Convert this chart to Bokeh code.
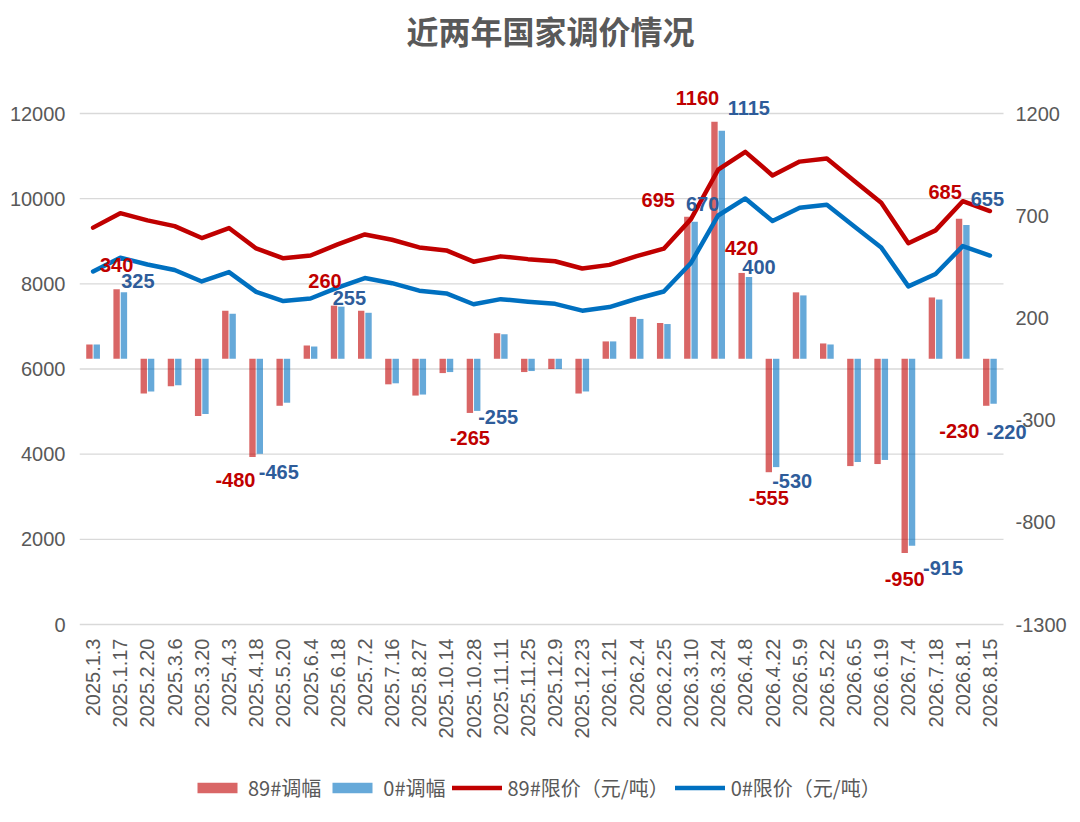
import math
from bokeh.plotting import figure
from bokeh.models import (Range1d, LinearAxis, FixedTicker, Label, Legend,
                          LegendItem, ColumnDataSource)
from bokeh.embed import file_html
from bokeh.resources import INLINE

# ---------------- data ----------------
categories = ["2025.1.3", "2025.1.17", "2025.2.20", "2025.3.6", "2025.3.20", "2025.4.3",
              "2025.4.18", "2025.5.20", "2025.6.4", "2025.6.18", "2025.7.2", "2025.7.16",
              "2025.8.27", "2025.10.14", "2025.10.28", "2025.11.11", "2025.11.25", "2025.12.9",
              "2025.12.23", "2026.1.21", "2026.2.4", "2026.2.25", "2026.3.10", "2026.3.24",
              "2026.4.8", "2026.4.22", "2026.5.9", "2026.5.22", "2026.6.5", "2026.6.19",
              "2026.7.4", "2026.7.18", "2026.8.1", "2026.8.15"]

adj_89 = [70, 340, -170, -135, -280, 235, -480, -230, 65, 260, 235, -125, -180, -70, -265,
          125, -65, -50, -170, 85, 205, 175, 695, 1160, 420, -555, 325, 75, -525, -515,
          -950, 300, 685, -230]
adj_0 = [70, 325, -160, -130, -270, 220, -465, -215, 60, 255, 225, -120, -175, -65, -255,
         120, -60, -50, -160, 85, 195, 170, 670, 1115, 400, -530, 310, 70, -505, -495,
         -915, 290, 655, -220]
price_89 = [9320, 9660, 9490, 9355, 9075, 9310, 8830, 8600, 8665, 8925, 9160, 9035, 8855,
            8785, 8520, 8645, 8580, 8530, 8360, 8445, 8650, 8825, 9520, 10680, 11100, 10545,
            10870, 10945, 10420, 9905, 8955, 9255, 9940, 9710]
price_0 = [8290, 8615, 8455, 8325, 8055, 8275, 7810, 7595, 7655, 7910, 8135, 8015, 7840,
           7775, 7520, 7640, 7580, 7530, 7370, 7455, 7650, 7820, 8490, 9605, 10005, 9475,
           9785, 9855, 9350, 8855, 7940, 8230, 8885, 8665]

labeled_idx = [1, 6, 9, 14, 22, 23, 24, 25, 30, 32, 33]

left_ticks = [0, 2000, 4000, 6000, 8000, 10000, 12000]
right_ticks = [-1300, -800, -300, 200, 700, 1200]

title_text = "近两年国家调价情况"
legend_names = ["89#调幅", "0#调幅", "89#限价（元/吨）", "0#限价（元/吨）"]

# ---------------- style / layout (pixels) ----------------
RED = "#c00000"
BLUE = "#0070c0"
RED_LABEL = "#c00000"
BLUE_LABEL = "#2e5c9a"
GREY = "#595959"
BAR_OFF = 0.135
BAR_W = 0.235

W, H = 1080, 822
GRID_L, GRID_R, GRID_T, GRID_B = 79, 1003, 113, 624   # gridded area
FRAME_R = 1032           # frame extends right of gridlines (room for labels)
TITLE_CX, TITLE_CY = 550, 29
LEGEND_X, LEGEND_BOTTOM = 192, 802

# label offsets in screen px (dx, dy down-positive) relative to bar end
red_off = {1: (0, -24), 6: (-17, 23), 9: (-9, -25), 14: (0, 25), 22: (-29, -17),
           23: (-17, -24), 24: (0, -25), 25: (0, 26), 30: (0, 26), 32: (-14, -27),
           33: (-27, 25)}
blue_off = {1: (14, -11), 6: (19, 18), 9: (8, -9), 14: (21, 6), 22: (8, -18),
            23: (27, -23), 24: (10, -10), 25: (16, 14), 30: (31, 22), 32: (21, -26),
            33: (13, 28)}

n = len(categories)
xs = list(range(n))
px_per_cat = (GRID_R - GRID_L) / n
x_start = -0.5
x_end = n - 0.5 + (FRAME_R - GRID_R) / px_per_cat
grid_h = GRID_B - GRID_T
l_per_px = (left_ticks[-1] - left_ticks[0]) / grid_h
r_per_px = (right_ticks[-1] - right_ticks[0]) / grid_h
# frame spans the full canvas height
l_rng = (left_ticks[0] - (H - GRID_B) * l_per_px, left_ticks[-1] + GRID_T * l_per_px)
r_rng = (right_ticks[0] - (H - GRID_B) * r_per_px, right_ticks[-1] + GRID_T * r_per_px)

src = ColumnDataSource(dict(
    x=xs,
    xr=[i - BAR_OFF for i in xs],
    xb=[i + BAR_OFF for i in xs],
    adj89=adj_89, adj0=adj_0, p89=price_89, p0=price_0,
))

p = figure(width=W, height=H, x_range=Range1d(x_start, x_end),
           y_range=Range1d(*l_rng), title=None,
           output_backend="svg", toolbar_location=None,
           min_border_left=GRID_L, min_border_right=W - FRAME_R, min_border_top=0,
           min_border_bottom=0)
p.outline_line_color = None
p.background_fill_color = "white"
p.border_fill_color = "white"
p.extra_y_ranges = {"right": Range1d(*r_rng)}

# grid lines (only across the category area)
p.xgrid.visible = False
p.ygrid.visible = False
p.segment(x0=[-0.5] * len(left_ticks), x1=[n - 0.5] * len(left_ticks),
          y0=left_ticks, y1=left_ticks, line_color="#d9d9d9", line_width=1.3,
          level="underlay")

r_bar89 = p.vbar(x="xr", top="adj89", bottom=0, width=BAR_W, source=src,
                 y_range_name="right", fill_color=RED, fill_alpha=0.6, line_color=None)
r_bar0 = p.vbar(x="xb", top="adj0", bottom=0, width=BAR_W, source=src,
                y_range_name="right", fill_color=BLUE, fill_alpha=0.6, line_color=None)
r_l89 = p.line(x="x", y="p89", source=src, line_color=RED, line_width=4.5,
               line_join="round", line_cap="round")
r_l0 = p.line(x="x", y="p0", source=src, line_color=BLUE, line_width=4.5,
              line_join="round", line_cap="round")

# axes
p.yaxis.ticker = FixedTicker(ticks=left_ticks)
p.yaxis.major_label_overrides = {t: str(t) for t in left_ticks}
p.xaxis.ticker = FixedTicker(ticks=xs)
p.xaxis.major_label_overrides = {i: c for i, c in enumerate(categories)}
p.xaxis.major_label_orientation = math.pi / 2
p.xaxis.fixed_location = left_ticks[0]

raxis = LinearAxis(y_range_name="right", ticker=FixedTicker(ticks=right_ticks))
raxis.major_label_overrides = {t: str(t) for t in right_ticks}
p.add_layout(raxis, "right")

for ax in [p.xaxis[0], p.yaxis[0], raxis]:
    ax.axis_line_color = None
    ax.major_tick_line_color = None
    ax.minor_tick_line_color = None
    ax.major_tick_out = 0
    ax.major_tick_in = 0
    ax.major_label_text_font = "Liberation Sans"
    ax.major_label_text_font_size = "20px"
    ax.major_label_text_color = GREY
p.xaxis.major_label_standoff = 14
p.yaxis.major_label_standoff = GRID_L - 65
raxis.major_label_standoff = 1015 - FRAME_R

# data labels
for i in labeled_idx:
    dx, dy = red_off[i]
    p.add_layout(Label(x=i - BAR_OFF, y=adj_89[i], y_range_name="right",
                       text=str(adj_89[i]), x_offset=dx, y_offset=-dy,
                       text_align="center", text_baseline="middle",
                       text_font="Liberation Sans", text_font_style="bold",
                       text_font_size="20px", text_color=RED_LABEL))
    dx, dy = blue_off[i]
    p.add_layout(Label(x=i + BAR_OFF, y=adj_0[i], y_range_name="right",
                       text=str(adj_0[i]), x_offset=dx, y_offset=-dy,
                       text_align="center", text_baseline="middle",
                       text_font="Liberation Sans", text_font_style="bold",
                       text_font_size="20px", text_color=BLUE_LABEL))

# title (inside the full-height frame)
p.add_layout(Label(x=x_start + (TITLE_CX - GRID_L) / px_per_cat,
                   y=left_ticks[-1] + (GRID_T - TITLE_CY) * l_per_px,
                   text=title_text, text_align="center", text_baseline="middle",
                   text_font="Noto Sans CJK SC", text_font_style="bold",
                   text_font_size="32px", text_color=GREY))

legend = Legend(items=[LegendItem(label=legend_names[0], renderers=[r_bar89]),
                       LegendItem(label=legend_names[1], renderers=[r_bar0]),
                       LegendItem(label=legend_names[2], renderers=[r_l89]),
                       LegendItem(label=legend_names[3], renderers=[r_l0])],
                orientation="horizontal",
                location=(LEGEND_X - GRID_L, H - LEGEND_BOTTOM),
                glyph_width=50, glyph_height=13, label_standoff=6, spacing=6,
                padding=0, margin=0, border_line_alpha=0, background_fill_alpha=0,
                label_text_font="Noto Sans CJK SC", label_text_font_size="20px",
                label_text_color=GREY, label_height=20)
p.add_layout(legend)

open("out.html", "w").write(file_html(p, INLINE))
